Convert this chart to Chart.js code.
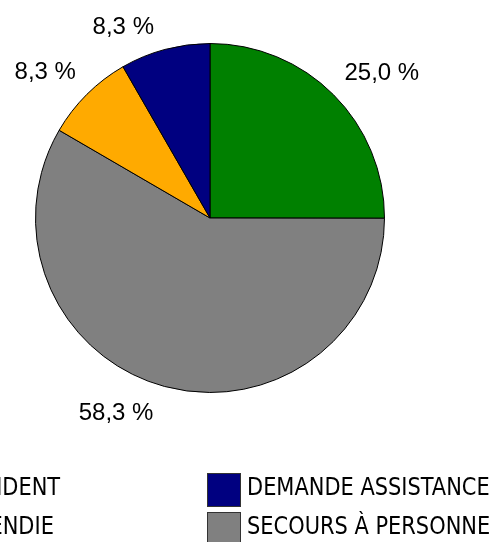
<!DOCTYPE html>
<html>
<head>
<meta charset="utf-8">
<script src="https://cdn.jsdelivr.net/npm/chart.js@4/dist/chart.umd.min.js"></script>
<style>
  html, body { margin: 0; padding: 0; background: #fff; overflow: hidden; }
  #wrap { width: 498px; height: 542px; }
</style>
</head>
<body>
<div id="wrap"><canvas id="pie" width="498" height="542"></canvas></div>
<script>
// Interventions par nature (en %)
const categories = ['ACCIDENT', 'SECOURS À PERSONNE', 'INCENDIE', 'DEMANDE ASSISTANCE'];
const percents = [25.0, 58.3, 8.3, 8.3];
const sliceColors = ['#008000', '#808080', '#FFAA00', '#000080'];
// legend is laid out row by row, alphabetical
const legendOrder = ['ACCIDENT', 'DEMANDE ASSISTANCE', 'INCENDIE', 'SECOURS À PERSONNE'];

const fmtPct = v => v.toFixed(1).replace('.', ',') + ' %';

// value labels outside each slice
const outsideLabels = {
    id: 'outsideLabels',
    afterDatasetsDraw(chart) {
        const c = chart.ctx;
        const meta = chart.getDatasetMeta(0);
        const values = chart.data.datasets[0].data;
        c.save();
        c.font = '24px "Liberation Sans", Arial, sans-serif';
        c.fillStyle = '#000';
        meta.data.forEach((arc, i) => {
            const p = arc.getProps(['x', 'y', 'startAngle', 'endAngle', 'outerRadius'], true);
            const mid = (p.startAngle + p.endAngle) / 2;
            const cx = Math.cos(mid), cy = Math.sin(mid);
            const sx = cx >= 0 ? 1 : -1, sy = cy >= 0 ? 1 : -1;
            const ex = p.x + cx * p.outerRadius + sx * 11;
            const ey = p.y + cy * p.outerRadius + sy * 15;
            c.textAlign = sx > 0 ? 'left' : 'right';
            c.textBaseline = sy > 0 ? 'top' : 'alphabetic';
            c.fillText(fmtPct(values[i]), ex, ey);
        });
        c.restore();
    }
};

// two-column legend under the pie
const gridLegend = {
    id: 'gridLegend',
    afterDraw(chart) {
        const c = chart.ctx;
        const labels = chart.data.labels;
        const colors = chart.data.datasets[0].backgroundColor;
        const colX = [-87, 207];
        const rowY = [473, 512];
        const box = 33;
        c.save();
        c.font = '24px "DejaVu Sans Condensed", "DejaVu Sans", sans-serif';
        c.textAlign = 'left';
        c.textBaseline = 'alphabetic';
        legendOrder.forEach((name, k) => {
            const idx = labels.indexOf(name);
            const x = colX[k % 2], y = rowY[Math.floor(k / 2)];
            c.fillStyle = colors[idx];
            c.fillRect(x, y, box, box);
            c.strokeStyle = '#333';
            c.lineWidth = 1;
            c.strokeRect(x + 0.5, y + 0.5, box, box);
            c.fillStyle = '#000';
            // squeeze the text a little, the original face is narrower
            c.save();
            c.translate(x + box + 7, y + 22);
            c.scale(0.97, 1);
            c.fillText(name, 0, 0);
            c.restore();
        });
        c.restore();
    }
};

new Chart(document.getElementById('pie'), {
    type: 'pie',
    data: {
        labels: categories,
        datasets: [{
            data: percents,
            backgroundColor: sliceColors,
            borderColor: '#000',
            borderWidth: 1
        }]
    },
    options: {
        responsive: false,
        animation: false,
        layout: { padding: { left: 35, top: 43, right: 113, bottom: 149 } },
        plugins: {
            legend: { display: false },
            tooltip: { enabled: false }
        }
    },
    plugins: [outsideLabels, gridLegend]
});
</script>
</body>
</html>
